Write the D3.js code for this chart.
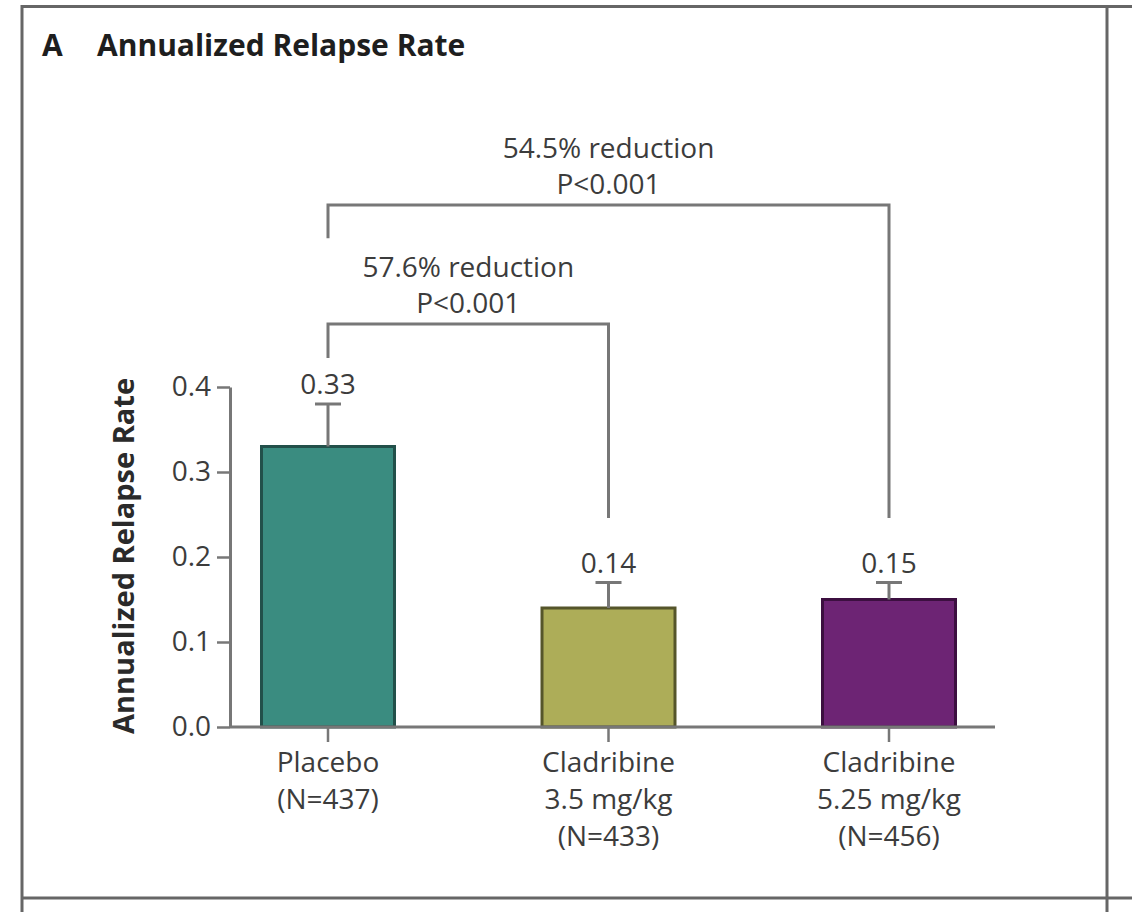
<!DOCTYPE html>
<html>
<head>
<meta charset="utf-8">
<script src="https://cdn.jsdelivr.net/npm/d3@7"></script>
<style>
  body { margin: 0; background: #fff; }
  svg text { font-family: "Open Sans", sans-serif; }
</style>
</head>
<body>
<div id="container"></div>
<script>
/* DATA */
const groups = ["Placebo", "Cladribine 3.5", "Cladribine 5.25"];
const groupLabels = [
  ["Placebo", "(N=437)"],
  ["Cladribine", "3.5 mg/kg", "(N=433)"],
  ["Cladribine", "5.25 mg/kg", "(N=456)"]
];
const rates = [0.33, 0.14, 0.15];
const rateLabels = ["0.33", "0.14", "0.15"];
const upperCI = [0.38, 0.17, 0.17];
const yTicks = [0.0, 0.1, 0.2, 0.3, 0.4];
const compTo = [1, 2]; // both vs placebo
const compText = [
  ["57.6% reduction", "P<0.001"],
  ["54.5% reduction", "P<0.001"]
];
const barColors = ["#3a8c80", "#adad58", "#6d2474"];
const barStrokes = ["#22504a", "#55552a", "#3c0f40"];

/* LAYOUT */
const width = 1132, height = 912;
const plot = { left: 230, right: 995, top: 387, bottom: 727 };
// bracket geometry in data units (y)
const bracketTop = [0.474, 0.614];
const bracketLeftEnd = [0.434, 0.575];
const bracketRightEnd = 0.246;
const fs = 28;

const svg = d3.select("#container")
  .append("svg")
  .attr("width", width)
  .attr("height", height);

const xScale = d3.scalePoint()
  .domain(groups)
  .range([328, 889]);

const yScale = d3.scaleLinear()
  .domain([0, 0.4])
  .range([plot.bottom, plot.top]);

const barW = 133;
const gray = "#777";
const textCol = "#3c3c3c";

// frame
const frame = svg.append("g").attr("stroke", "#666").attr("stroke-width", 3);
frame.append("line").attr("x1", 21).attr("x2", width).attr("y1", 6.5).attr("y2", 6.5);
frame.append("line").attr("x1", 21).attr("x2", width).attr("y1", 898).attr("y2", 898);
frame.append("line").attr("x1", 22).attr("x2", 22).attr("y1", 5).attr("y2", height);
frame.append("line").attr("x1", 1107).attr("x2", 1107).attr("y1", 5).attr("y2", height);

// title
svg.append("text")
  .attr("x", 42).attr("y", 56)
  .attr("font-weight", "bold").attr("font-size", 30).attr("fill", "#1e1e1e")
  .text("A");
svg.append("text")
  .attr("x", 97).attr("y", 56)
  .attr("font-weight", "bold").attr("font-size", 30).attr("fill", "#1e1e1e")
  .text("Annualized Relapse Rate");

// y axis
const yAxis = d3.axisLeft(yScale)
  .tickValues(yTicks)
  .tickFormat(d3.format(".1f"))
  .tickSize(13)
  .tickSizeOuter(0)
  .tickPadding(6);

const gy = svg.append("g")
  .attr("transform", `translate(${plot.left},0)`)
  .call(yAxis);
gy.select(".domain").attr("stroke", gray).attr("stroke-width", 3);
gy.selectAll(".tick line").attr("stroke", gray).attr("stroke-width", 2.5);
gy.selectAll(".tick text")
  .attr("font-size", fs).attr("fill", textCol)
  .attr("font-family", "\"Open Sans\", sans-serif");

svg.append("text")
  .attr("transform", `translate(134,${(plot.top + plot.bottom) / 2 - 1}) rotate(-90)`)
  .attr("text-anchor", "middle")
  .attr("font-weight", "bold").attr("font-size", 29).attr("fill", "#2a2a2a")
  .text("Annualized Relapse Rate");

// bars
svg.selectAll("rect.bar")
  .data(groups)
  .join("rect")
  .attr("class", "bar")
  .attr("x", d => xScale(d) - barW / 2)
  .attr("y", (d, i) => yScale(rates[i]))
  .attr("width", barW)
  .attr("height", (d, i) => yScale(0) - yScale(rates[i]))
  .attr("fill", (d, i) => barColors[i])
  .attr("stroke", (d, i) => barStrokes[i])
  .attr("stroke-width", 3);

// error bars
const eb = svg.append("g").attr("stroke", gray).attr("stroke-width", 3);
groups.forEach((g, i) => {
  const cx = xScale(g);
  eb.append("line").attr("x1", cx).attr("x2", cx)
    .attr("y1", yScale(rates[i])).attr("y2", yScale(upperCI[i]));
  eb.append("line").attr("x1", cx - 13).attr("x2", cx + 13)
    .attr("y1", yScale(upperCI[i])).attr("y2", yScale(upperCI[i]));
});

// value labels
svg.selectAll("text.val")
  .data(groups)
  .join("text")
  .attr("class", "val")
  .attr("x", d => xScale(d))
  .attr("y", (d, i) => yScale(upperCI[i]) - 10)
  .attr("text-anchor", "middle")
  .attr("font-size", fs).attr("fill", textCol)
  .text((d, i) => rateLabels[i]);

// x axis
svg.append("line")
  .attr("x1", plot.left).attr("x2", plot.right)
  .attr("y1", plot.bottom).attr("y2", plot.bottom)
  .attr("stroke", gray).attr("stroke-width", 3);

const xg = svg.append("g");
groups.forEach((g, i) => {
  const cx = xScale(g);
  xg.append("line").attr("x1", cx).attr("x2", cx)
    .attr("y1", plot.bottom).attr("y2", plot.bottom + 15)
    .attr("stroke", gray).attr("stroke-width", 2.5);
  const t = xg.append("text")
    .attr("text-anchor", "middle")
    .attr("font-size", fs).attr("fill", textCol);
  groupLabels[i].forEach((line, j) => {
    t.append("tspan").attr("x", cx).attr("y", 772 + j * 37).text(line);
  });
});

// comparison brackets
const br = svg.append("g");
compTo.forEach((to, k) => {
  const x0 = xScale(groups[0]), x1 = xScale(groups[to]);
  const yTop = yScale(bracketTop[k]);
  br.append("path")
    .attr("d", `M${x0},${yScale(bracketLeftEnd[k])}V${yTop}H${x1}V${yScale(bracketRightEnd)}`)
    .attr("fill", "none").attr("stroke", gray).attr("stroke-width", 3);
  compText[k].forEach((line, j) => {
    br.append("text")
      .attr("x", (x0 + x1) / 2)
      .attr("y", yTop - 47 + j * 36)
      .attr("text-anchor", "middle")
      .attr("font-size", fs).attr("fill", textCol)
      .text(line);
  });
});
</script>
</body>
</html>
